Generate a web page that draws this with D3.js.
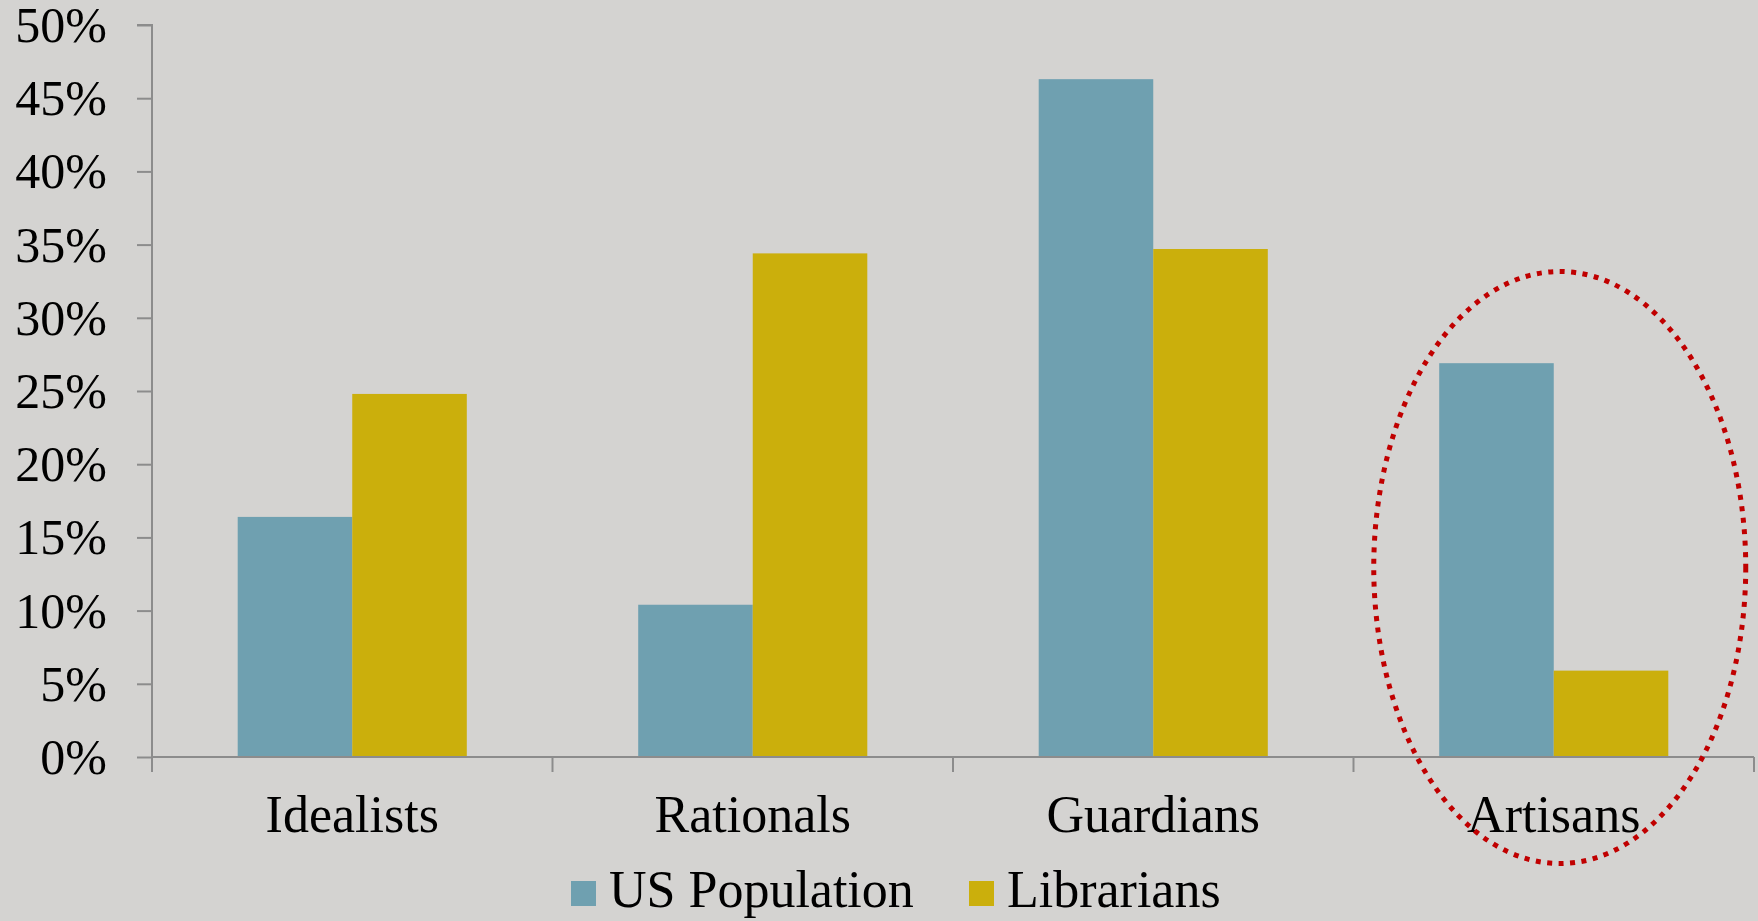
<!DOCTYPE html>
<html>
<head>
<meta charset="utf-8">
<script src="https://cdn.jsdelivr.net/npm/d3@7"></script>
<style>
  html, body { margin: 0; padding: 0; background: #d4d3d1; }
  svg { display: block; }
  text { font-family: "Liberation Serif", "DejaVu Serif", serif; fill: #000; }
</style>
</head>
<body>
<svg id="chart" width="1758" height="921"></svg>
<script>
const categories = ["Idealists", "Rationals", "Guardians", "Artisans"];
const seriesNames = ["US Population", "Librarians"];
const usPopulation = [16.4, 10.4, 46.3, 26.9];
const librarians = [24.8, 34.4, 34.7, 5.9];
const yTicks = [0, 5, 10, 15, 20, 25, 30, 35, 40, 45, 50];
const yTickLabels = ["0%", "5%", "10%", "15%", "20%", "25%", "30%", "35%", "40%", "45%", "50%"];
const colors = ["#6fa0b0", "#cbaf0c"];

(function () {
const svg = d3.select("#chart");
const W = 1758, H = 921;
svg.append("rect").attr("width", W).attr("height", H).attr("fill", "#d4d3d1");

const mLeft = 152, mRight = 1754, mTop = 25, mBottom = 757;
const x0 = d3.scaleBand().domain(categories).range([mLeft, mRight]).paddingInner(0).paddingOuter(0);
const bw = x0.bandwidth();
const x1 = d3.scaleBand().domain(seriesNames).range([bw * 0.214, bw * 0.786]).padding(0);
const y = d3.scaleLinear().domain([0, 50]).range([mBottom, mTop]);

const seriesData = [usPopulation, librarians];

// bars
const groups = svg.append("g").selectAll("g")
  .data(categories).join("g")
  .attr("transform", d => `translate(${x0(d)},0)`);
groups.selectAll("rect")
  .data((c, i) => seriesNames.map((s, j) => ({ s, v: seriesData[j][i], j })))
  .join("rect")
  .attr("x", d => x1(d.s))
  .attr("width", x1.bandwidth())
  .attr("y", d => y(d.v))
  .attr("height", d => y(0) - y(d.v))
  .attr("fill", d => colors[d.j]);

// y axis
const yAxis = d3.axisLeft(y).tickValues(yTicks).tickSize(15).tickPadding(30)
  .tickFormat((d, i) => yTickLabels[i]);
const gy = svg.append("g").attr("transform", `translate(${mLeft},0)`).call(yAxis);
gy.select(".domain").attr("stroke", "#8c8c8c").attr("stroke-width", 2)
  .attr("d", `M-15,${mTop}H0V${mBottom}`);
gy.selectAll(".tick line").attr("stroke", "#8c8c8c").attr("stroke-width", 2);
gy.selectAll(".tick text").attr("font-size", 50).attr("dy", "0.33em")
  .style("font-family", '"Liberation Serif", serif').attr("fill", "#000");

// x axis
const boundaries = categories.map(c => x0(c)).concat([mRight]);
const gx = svg.append("g");
gx.append("line").attr("x1", mLeft).attr("x2", mRight).attr("y1", mBottom).attr("y2", mBottom)
  .attr("stroke", "#8c8c8c").attr("stroke-width", 2);
gx.selectAll("line.tk").data(boundaries).join("line").attr("class", "tk")
  .attr("x1", d => d).attr("x2", d => d).attr("y1", mBottom).attr("y2", mBottom + 15)
  .attr("stroke", "#8c8c8c").attr("stroke-width", 2);
gx.selectAll("text").data(categories).join("text")
  .attr("x", d => x0(d) + bw / 2).attr("y", 832)
  .attr("text-anchor", "middle").attr("font-size", 52).text(d => d);

// legend
const legend = svg.append("g");
const legendItems = [
  { name: seriesNames[0], color: colors[0], sx: 571, tx: 609 },
  { name: seriesNames[1], color: colors[1], sx: 969, tx: 1007 }
];
legend.selectAll("rect").data(legendItems).join("rect")
  .attr("x", d => d.sx).attr("y", 881).attr("width", 25).attr("height", 25)
  .attr("fill", d => d.color);
legend.selectAll("text").data(legendItems).join("text")
  .attr("x", d => d.tx).attr("y", 907).attr("font-size", 52).text(d => d.name);

// highlight ellipse around Artisans
svg.append("ellipse")
  .attr("cx", x0("Artisans") + bw / 2 + 6).attr("cy", 567.5)
  .attr("rx", 186).attr("ry", 296)
  .attr("fill", "none").attr("stroke", "#c00000").attr("stroke-width", 5)
  .attr("stroke-dasharray", "5 6.5");
})();
</script>
</body>
</html>
